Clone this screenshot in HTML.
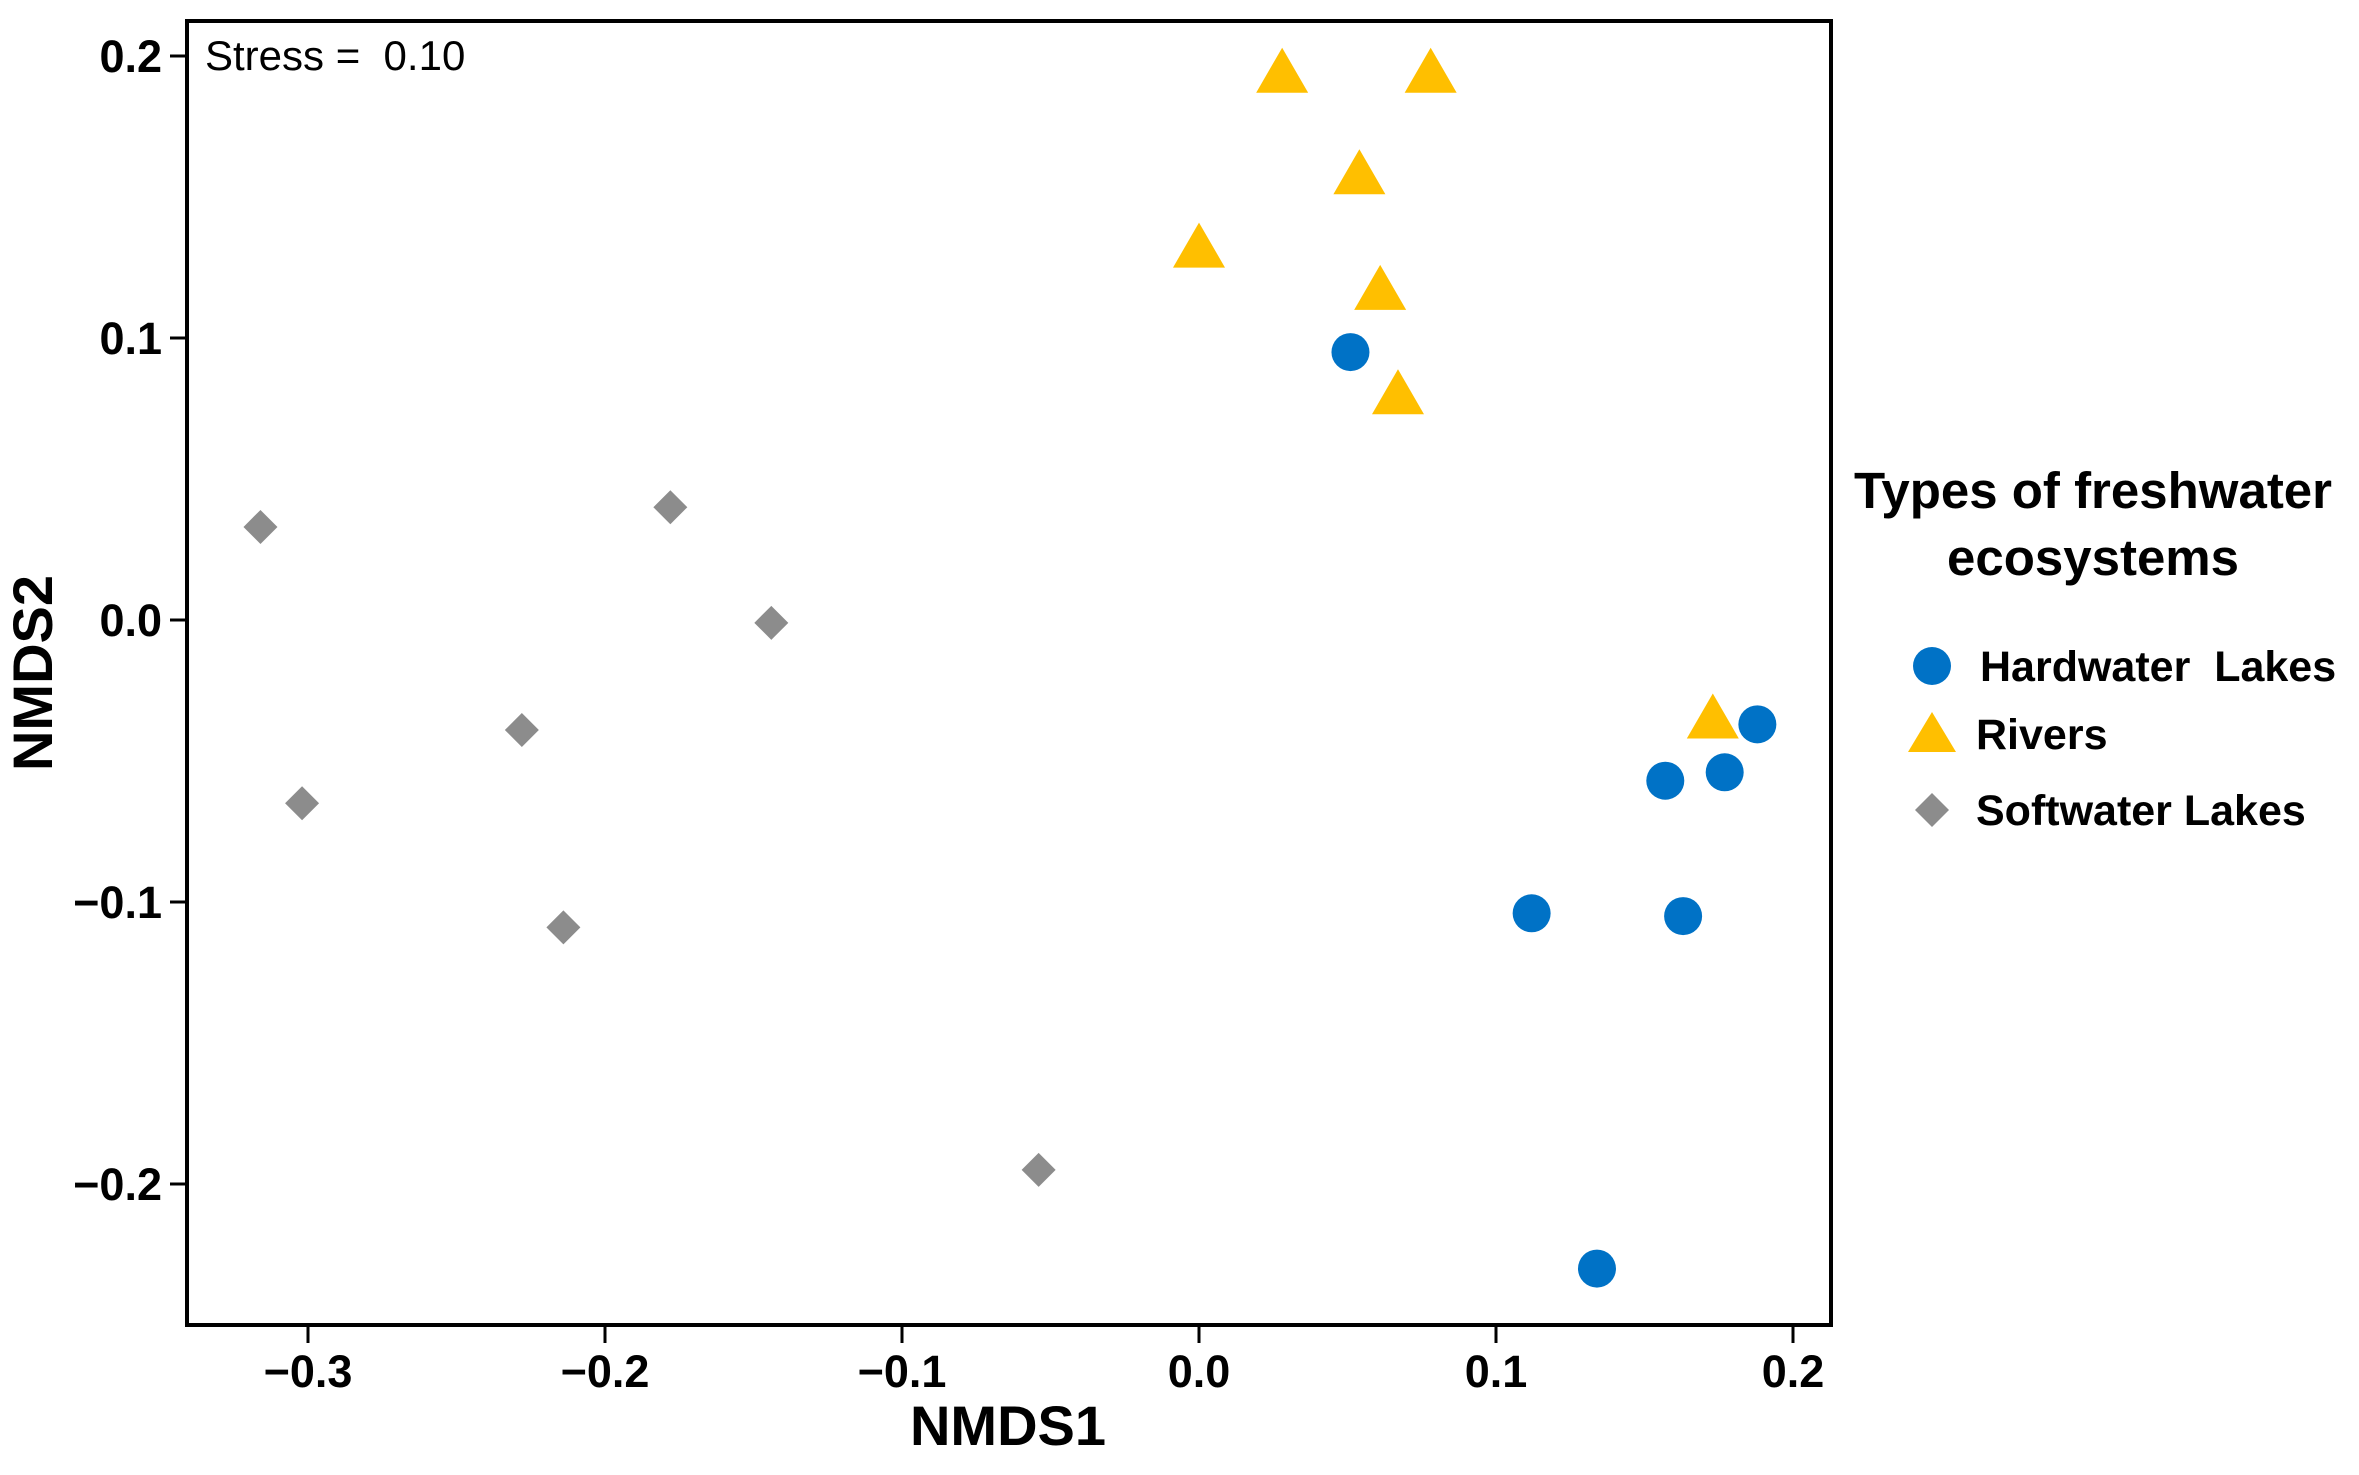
<!DOCTYPE html>
<html><head><meta charset="utf-8"><style>
html,body{margin:0;padding:0;background:#fff;}
svg{display:block;font-family:"Liberation Sans",Arial,sans-serif;}
</style></head><body>
<svg id="chart" width="2359" height="1475" viewBox="0 0 2359 1475">
<rect x="0" y="0" width="2359" height="1475" fill="#fff"/>
<g id="marks"></g>
<g id="axes"></g>
<rect x="187" y="21" width="1644" height="1304" fill="none" stroke="#000" stroke-width="4"/>
<text x="205" y="70" font-size="42" fill="#000" xml:space="preserve" style="white-space:pre">Stress =  0.10</text>
<text x="1008" y="1445" font-size="56" font-weight="bold" text-anchor="middle">NMDS1</text>
<text transform="translate(52,673) rotate(-90)" font-size="56" font-weight="bold" text-anchor="middle">NMDS2</text>
<g>
<text x="2093" y="508" font-size="51" font-weight="bold" text-anchor="middle">Types of freshwater</text>
<text x="2093" y="575" font-size="51" font-weight="bold" text-anchor="middle">ecosystems</text>
<g>
<circle cx="1932" cy="666" r="19" fill="#0072c6"/>
<text x="1980" y="681" font-size="43" font-weight="bold" xml:space="preserve" style="white-space:pre">Hardwater  Lakes</text></g>
<g>
<polygon points="1932,712 1956,752 1908,752" fill="#ffbf00"/>
<text x="1976" y="749" font-size="43" font-weight="bold">Rivers</text></g>
<g>
<polygon points="1932,793 1949,810 1932,827 1915,810" fill="#8c8c8c"/>
<text x="1976" y="825" font-size="43" font-weight="bold">Softwater Lakes</text></g>
</g>
</svg>
<script>
const xTicks=[-0.3,-0.2,-0.1,0.0,0.1,0.2];
const xTickLabels=["\u22120.3","\u22120.2","\u22120.1","0.0","0.1","0.2"];
const yTicks=[0.2,0.1,0.0,-0.1,-0.2];
const yTickLabels=["0.2","0.1","0.0","\u22120.1","\u22120.2"];
const hardX=[0.051,0.188,0.157,0.177,0.112,0.163,0.134];
const hardY=[0.095,-0.037,-0.057,-0.054,-0.104,-0.105,-0.230];
const riverX=[0.028,0.078,0.054,0.0,0.061,0.067,0.173];
const riverY=[0.193,0.193,0.157,0.131,0.116,0.079,-0.036];
const softX=[-0.316,-0.178,-0.144,-0.228,-0.302,-0.214,-0.054];
const softY=[0.033,0.040,-0.001,-0.039,-0.065,-0.109,-0.195];

const NS="http://www.w3.org/2000/svg";
function sx(v){return 1199+v*2970;}
function sy(v){return 620-v*2820;}
const axes=document.getElementById('axes');
const marks=document.getElementById('marks');
function mk(tag,attrs,parent){const e=document.createElementNS(NS,tag);for(const k in attrs)e.setAttribute(k,attrs[k]);parent.appendChild(e);return e;}
xTicks.forEach((t,i)=>{
  const l=mk('line',{x1:sx(t),x2:sx(t),y1:1325,y2:1343,stroke:'#000','stroke-width':3},axes);
  
  
  const tx=mk('text',{x:sx(t),y:1387,'font-size':45,'font-weight':'bold','text-anchor':'middle'},axes);
  tx.textContent=xTickLabels[i];
  
  
});
yTicks.forEach((t,i)=>{
  const l=mk('line',{x1:170,x2:187,y1:sy(t),y2:sy(t),stroke:'#000','stroke-width':3},axes);
  
  
  const tx=mk('text',{x:162,y:sy(t)+16,'font-size':45,'font-weight':'bold','text-anchor':'end'},axes);
  tx.textContent=yTickLabels[i];
  
  
});
softX.forEach((v,i)=>{
  const x=sx(v),y=sy(softY[i]);
  const p=mk('polygon',{points:`${x},${y-17} ${x+17},${y} ${x},${y+17} ${x-17},${y}`,fill:'#8c8c8c'},marks);
  
  
});
riverX.forEach((v,i)=>{
  const x=sx(v),y=sy(riverY[i]);
  const p=mk('polygon',{points:`${x},${y-28} ${x+26},${y+17} ${x-26},${y+17}`,fill:'#ffbf00'},marks);
  
  
});
hardX.forEach((v,i)=>{
  const c=mk('circle',{cx:sx(v),cy:sy(hardY[i]),r:19,fill:'#0072c6'},marks);
  
  
});
</script>
</body></html>
